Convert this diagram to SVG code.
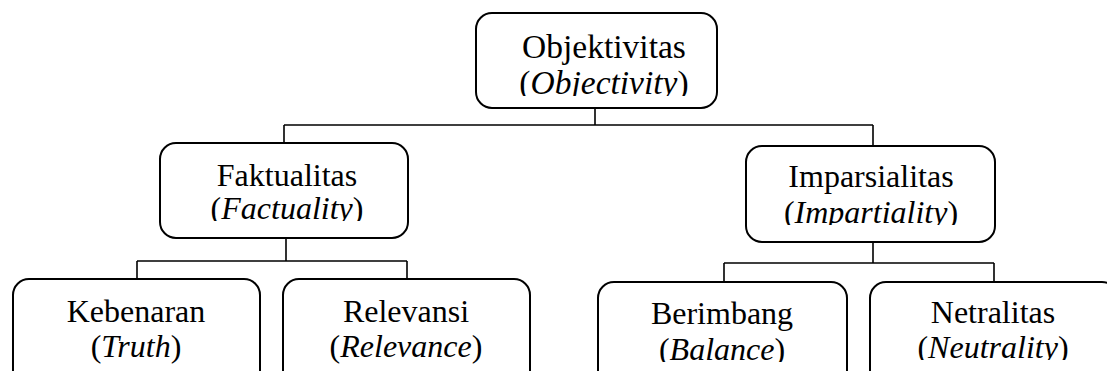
<svg xmlns="http://www.w3.org/2000/svg" width="1107" height="371" viewBox="0 0 1107 371">
<style>
.box{fill:#fff;stroke:#000;stroke-width:2}
.t{font-family:"Liberation Serif","Times New Roman",serif;font-size:32px;fill:#000;text-anchor:middle}
.big{font-size:33.5px}
.i{font-style:italic}
.c{fill:none;stroke:#000;stroke-width:1.6}
</style>
<defs>
<clipPath id="c0"><rect x="470" y="0" width="260" height="96"/></clipPath>
<clipPath id="c1"><rect x="150" y="130" width="270" height="91"/></clipPath>
<clipPath id="c2"><rect x="740" y="130" width="270" height="95"/></clipPath>
<clipPath id="c3"><rect x="0" y="270" width="1107" height="90"/></clipPath>
<clipPath id="c4"><rect x="0" y="270" width="1107" height="92"/></clipPath>
</defs>
<g id="connectors">
<path class="c" d="M595,108 V125 M284,125 H873 M284,125 V143 M873,125 V146"/>
<path class="c" d="M286,238 V261 M137,261 H407 M137,261 V279 M407,261 V279"/>
<path class="c" d="M873,242 V263 M724,263 H994 M724,263 V282 M994,263 V282"/>
</g>
<g id="node-objektivitas">
<rect class="box" x="476" y="13" width="241" height="95" rx="16"/>
<g clip-path="url(#c0)">
<text class="t big" x="604" y="58">Objektivitas</text>
<text class="t big" x="604" y="94">(<tspan class="i">Objectivity</tspan>)</text>
</g>
</g>
<g id="node-faktualitas">
<rect class="box" x="160" y="143" width="248" height="95" rx="16"/>
<g clip-path="url(#c1)">
<text class="t" x="287" y="186">Faktualitas</text>
<text class="t" x="287" y="219">(<tspan class="i">Factuality</tspan>)</text>
</g>
</g>
<g id="node-imparsialitas">
<rect class="box" x="746" y="146" width="249" height="96" rx="16"/>
<g clip-path="url(#c2)">
<text class="t" x="871" y="187">Imparsialitas</text>
<text class="t" x="871" y="223">(<tspan class="i">Impartiality</tspan>)</text>
</g>
</g>
<g id="node-kebenaran">
<rect class="box" x="13" y="279" width="247" height="110" rx="16"/>
<text class="t" x="136" y="322">Kebenaran</text>
<text class="t" x="136" y="357">(<tspan class="i">Truth</tspan>)</text>
</g>
<g id="node-relevansi">
<rect class="box" x="283" y="279" width="247" height="110" rx="16"/>
<text class="t" x="406" y="322">Relevansi</text>
<text class="t" x="406" y="357">(<tspan class="i">Relevance</tspan>)</text>
</g>
<g id="node-berimbang">
<rect class="box" x="598" y="282" width="249" height="110" rx="16"/>
<g clip-path="url(#c4)">
<text class="t" x="722" y="324">Berimbang</text>
<text class="t" x="722" y="360">(<tspan class="i">Balance</tspan>)</text>
</g>
</g>
<g id="node-netralitas">
<rect class="box" x="870" y="282" width="248" height="110" rx="16"/>
<g clip-path="url(#c3)">
<text class="t" x="993" y="323">Netralitas</text>
<text class="t" x="993" y="358">(<tspan class="i">Neutrality</tspan>)</text>
</g>
</g>
</svg>
